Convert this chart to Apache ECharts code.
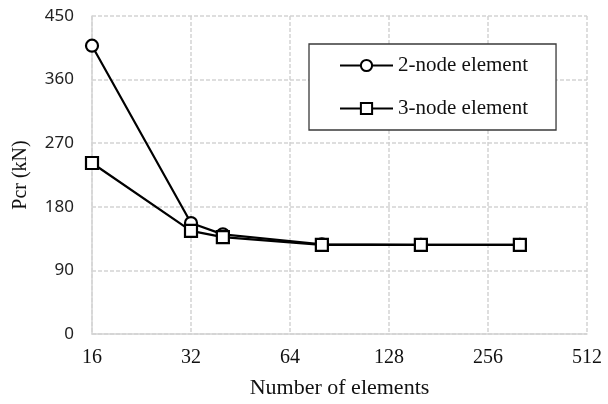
<!DOCTYPE html>
<html><head><meta charset="utf-8">
<script src="https://cdn.jsdelivr.net/npm/echarts@6/dist/echarts.min.js"></script>
<style>html,body{margin:0;padding:0;background:#fff}#c{width:608px;height:404px}</style>
</head><body><div id="c"></div>
<script>
const elements = [16, 32, 40, 80, 160, 320];
const twoNode = [408, 157, 141, 127, 126, 126];
const threeNode = [242, 146, 137, 126, 126, 126];
const xTicks = [16, 32, 64, 128, 256, 512];
const yTicks = [0, 90, 180, 270, 360, 450];
const seriesNames = ['2-node element', '3-node element'];

const chart = echarts.init(document.getElementById('c'));
const grid = '#d4d4d4';
const serif = 'Liberation Serif';
function mk(name, vals, sym) {
  return {
    name: name, type: 'line',
    data: elements.map((x, i) => [x, vals[i]]),
    symbol: sym, symbolSize: 12,
    lineStyle: {color: '#000', width: 2.2},
    itemStyle: {color: '#fff', borderColor: '#000', borderWidth: 2.2},
    emphasis: {disabled: true}
  };
}
chart.setOption({
  animation: false,
  grid: {left: 92, right: 21, top: 16, bottom: 67},
  xAxis: {
    type: 'log', logBase: 2, min: xTicks[0], max: xTicks[xTicks.length - 1], splitNumber: 5,
    name: 'Number of elements', nameLocation: 'middle', nameGap: 43,
    nameTextStyle: {fontFamily: serif, fontSize: 22, color: '#111'},
    axisLine: {lineStyle: {color: grid, width: 1.5}},
    axisTick: {show: false},
    axisLabel: {fontFamily: serif, fontSize: 20, color: '#111', margin: 14,
      formatter: v => String(Math.round(v))},
    splitLine: {show: true, lineStyle: {color: grid, width: 1.5, type: [4, 2]}}
  },
  yAxis: {
    type: 'value', min: yTicks[0], max: yTicks[yTicks.length - 1], interval: yTicks[1] - yTicks[0],
    name: 'Pcr (kN)', nameLocation: 'middle', nameGap: 61, nameRotate: 90,
    nameTextStyle: {fontFamily: serif, fontSize: 20, color: '#111'},
    axisLine: {show: true, lineStyle: {color: grid, width: 1.5}},
    axisTick: {show: false},
    axisLabel: {fontFamily: 'Noto Sans', fontSize: 17, color: '#222', margin: 18},
    splitLine: {show: true, lineStyle: {color: grid, width: 1.5, type: [4, 2]}}
  },
  legend: {
    left: 309, top: 44, orient: 'vertical',
    padding: [11, 28, 11, 30],
    itemWidth: 53, itemHeight: 14, itemGap: 22,
    borderColor: '#3a3a3a', borderWidth: 1.3, backgroundColor: '#fff',
    textStyle: {fontFamily: serif, fontSize: 21, color: '#111', lineHeight: 20},
    data: seriesNames
  },
  series: [mk(seriesNames[0], twoNode, 'circle'), mk(seriesNames[1], threeNode, 'rect')]
});
</script></body></html>
